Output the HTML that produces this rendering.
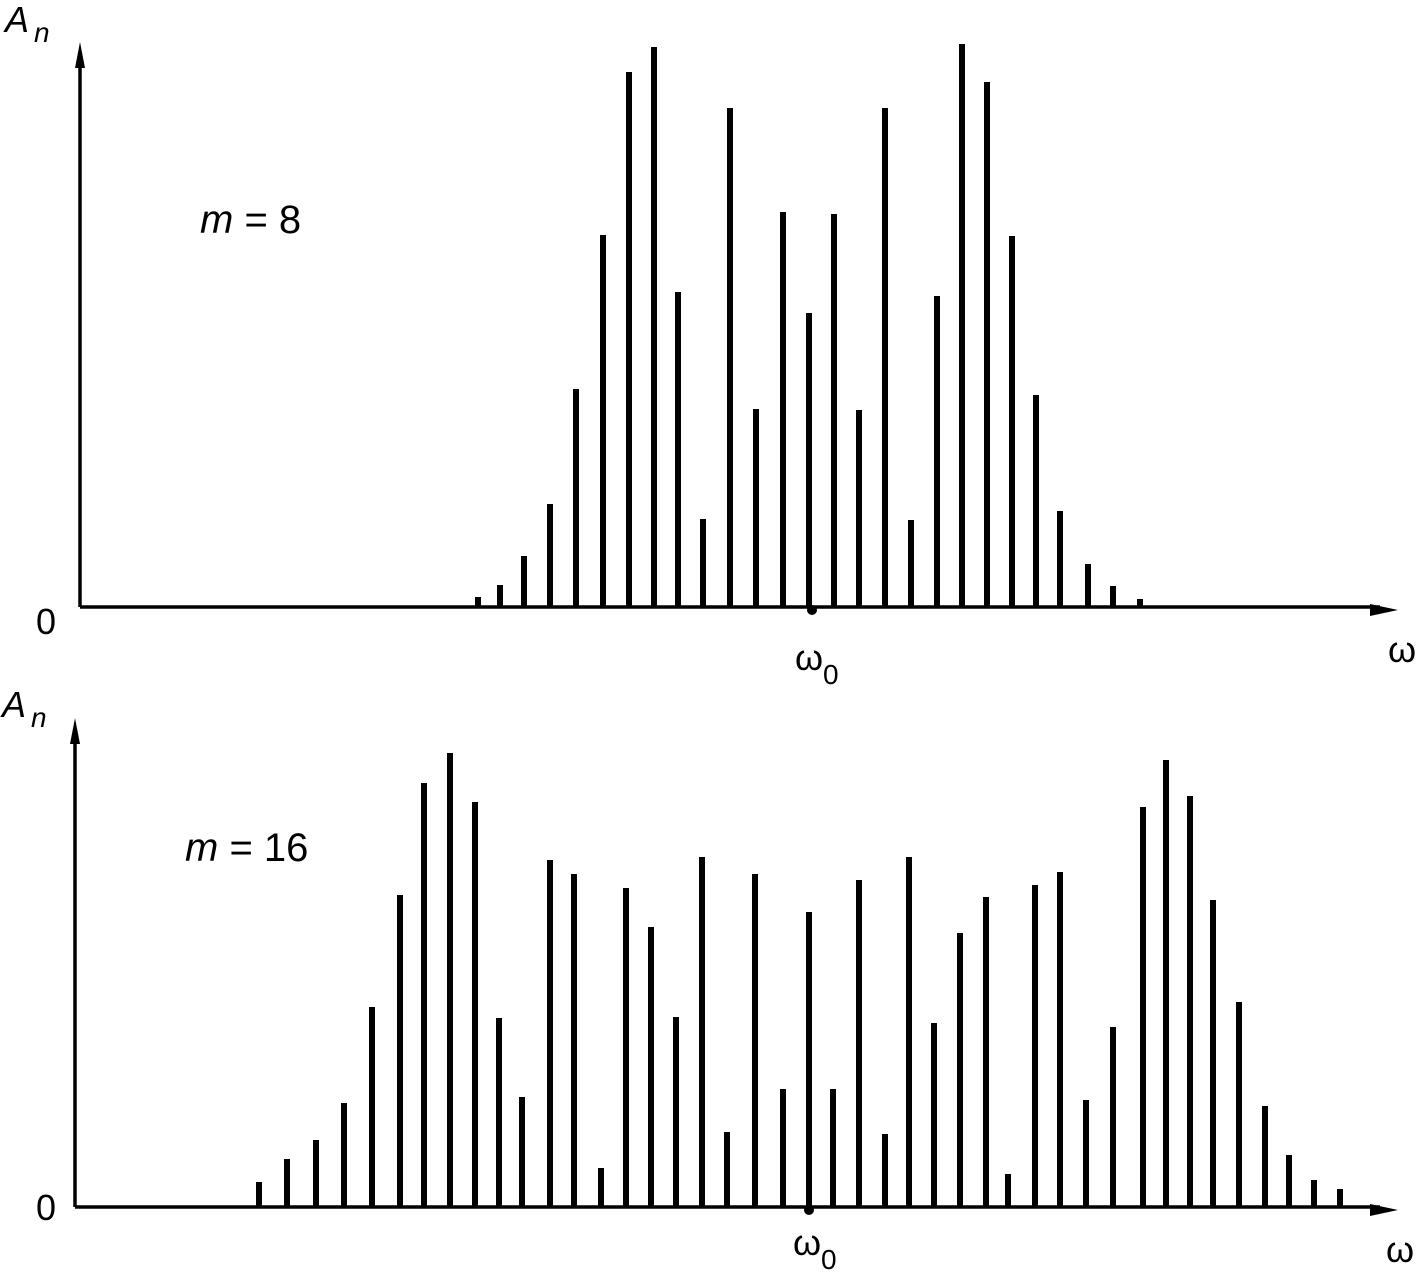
<!DOCTYPE html>
<html><head><style>body{margin:0;background:#fff}svg{display:block}</style></head><body>
<svg width="1419" height="1273" xmlns="http://www.w3.org/2000/svg" font-family="Liberation Sans, sans-serif">
<g stroke="#000" stroke-width="3.5" fill="none">
<line x1="80" y1="607" x2="1380" y2="607"/>
<line x1="80" y1="607" x2="80" y2="60"/>
<line x1="75" y1="1207" x2="1380" y2="1207"/>
<line x1="75" y1="1207" x2="75" y2="735"/>
</g>
<g fill="#000">
<polygon points="80,42 75,68 85,68"/>
<polygon points="1398,610 1370,604 1370,616"/>
<polygon points="75,718 70,744 80,744"/>
<polygon points="1398,1210 1370,1204 1370,1216"/>
<circle cx="812" cy="610" r="5"/>
<circle cx="809" cy="1210" r="5"/>
</g>
<g stroke="#000" stroke-width="6">
<path d="M478 607V597M500 607V585M524 607V556M550 607V504M576 607V389M603 607V235M629 607V72M654 607V47M678 607V292M703 607V519M730 607V108M756 607V409M783 607V212M809 607V313M834 607V214M859 607V410M885 607V108M911 607V520M937 607V296M962 607V44M987 607V82M1012 607V236M1036 607V395M1060 607V511M1088 607V564M1113 607V586M1140 607V599"/>
<path d="M259 1207V1182M287 1207V1159M316 1207V1140M344 1207V1103M372 1207V1007M400 1207V895M424 1207V783M450 1207V753M475 1207V802M499 1207V1018M522 1207V1097M550 1207V860M574 1207V874M601 1207V1168M626 1207V888M651 1207V927M676 1207V1017M702 1207V857M727 1207V1132M755 1207V874M783 1207V1089M809 1207V912M833 1207V1089M859 1207V880M885 1207V1134M909 1207V857M934 1207V1023M960 1207V933M986 1207V897M1008 1207V1174M1035 1207V885M1060 1207V872M1086 1207V1100M1113 1207V1027M1143 1207V807M1166 1207V760M1190 1207V796M1213 1207V900M1239 1207V1002M1265 1207V1106M1289 1207V1155M1314 1207V1180M1340 1207V1189"/>
</g>
<g font-size="36" fill="#000">
<text x="5" y="32" font-style="italic">A</text><text x="34" y="42" font-size="28" font-style="italic">n</text>
<text x="2" y="717" font-style="italic">A</text><text x="31" y="727" font-size="28" font-style="italic">n</text>
<text x="36" y="634">0</text>
<text x="36" y="1220">0</text>
<text x="200" y="233" font-size="40"><tspan font-style="italic">m</tspan> = 8</text>
<text x="185" y="861" font-size="40"><tspan font-style="italic">m</tspan> = 16</text>
<text x="795" y="670">ω</text><text x="823" y="684" font-size="28">0</text>
<text x="793" y="1255">ω</text><text x="821" y="1269" font-size="28">0</text>
<text x="1388" y="662">ω</text>
<text x="1386" y="1262">ω</text>
</g>
</svg>
</body></html>
